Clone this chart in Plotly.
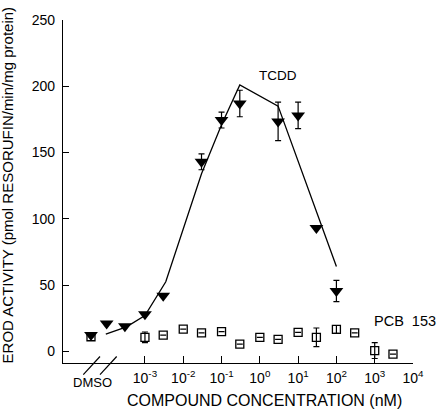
import numpy as np
import plotly.graph_objects as go

# -------------------------------
# Datos
# -------------------------------
DMSO_POS = 3.9e-5  # posicion nominal del control DMSO en el eje x (nM)

tcdd_dmso = 12.3
pcb_dmso = 11.0

tcdd_conc = [1e-4, 3e-4, 1e-3, 3e-3, 3e-2, 1e-1, 3e-1, 3, 10, 30, 100]
tcdd_erod = [21, 19, 28, 42, 143, 174.5, 187, 173.5, 178, 93, 45.5]
tcdd_err = [0, 0, 0, 0, 6, 6, 10, 14.5, 10, 0, 8]

fit_conc = [9.5e-5, 3.3e-4, 1e-3, 3.5e-3, 3e-2, 1e-1, 3e-1, 3, 100]
fit_erod = [13, 18.5, 27, 52.5, 134, 171, 201, 185, 64]

pcb_conc = [1e-3, 3e-3, 1e-2, 3e-2, 1e-1, 3e-1, 1, 3, 10, 30, 100, 300, 1000, 3000]
pcb_erod = [10.6, 12.3, 16.8, 14, 14.8, 5.4, 10.6, 9.1, 14.3, 10.6, 16.5, 14, 0.6, -2.1]
pcb_err = [4, 0, 0, 0, 0, 0, 0, 0, 0, 7, 3, 0, 6, 0]

x_ticks = [1e-3, 1e-2, 1e-1, 1, 10, 100, 1e3, 1e4]
x_ticktext = ["10<sup>-3</sup>", "10<sup>-2</sup>", "10<sup>-1</sup>", "10<sup>0</sup>",
              "10<sup>1</sup>", "10<sup>2</sup>", "10<sup>3</sup>", "10<sup>4</sup>"]
y_ticks = [0, 50, 100, 150, 200, 250]

FONT = "Liberation Sans, Arial, sans-serif"

fig = go.Figure()

# Curva ajustada TCDD
fig.add_trace(go.Scatter(x=fit_conc, y=fit_erod, mode="lines",
                         line=dict(color="black", width=1.3), hoverinfo="skip"))

# PCB 153 (cuadrados abiertos)
fig.add_trace(go.Scatter(
    x=[DMSO_POS] + pcb_conc, y=[pcb_dmso] + pcb_erod, mode="markers",
    marker=dict(symbol="square-open", size=8, color="black", line=dict(width=1.3)),
    error_y=dict(type="data", array=[0] + pcb_err, color="black", thickness=1.2, width=3),
))

# TCDD (triangulos llenos)
fig.add_trace(go.Scatter(
    x=[DMSO_POS] + tcdd_conc, y=[tcdd_dmso] + tcdd_erod, mode="markers",
    marker=dict(symbol="triangle-down", size=12, color="black"),
    error_y=dict(type="data", array=[0] + tcdd_err, color="black", thickness=1.2, width=3),
))

fig.update_xaxes(
    type="log", range=[-5.14, 4.0],
    tickvals=x_ticks, ticktext=x_ticktext,
    ticks="inside", ticklen=7, tickwidth=1.2, tickcolor="black",
    showline=True, linecolor="black", linewidth=1.2,
    showgrid=False, zeroline=False, ticklabelstandoff=2,
    tickfont=dict(family=FONT, size=14, color="black"),
)
fig.update_yaxes(
    range=[-8.8, 250],
    tickvals=y_ticks,
    ticks="inside", ticklen=6, tickwidth=1.2, tickcolor="black",
    showline=True, linecolor="black", linewidth=1.2,
    showgrid=False, zeroline=False, ticklabelstandoff=4,
    tickfont=dict(family=FONT, size=14, color="black"),
)

annotations = [
    dict(text="EROD ACTIVITY (pmol RESORUFIN/min/mg protein)", xref="paper", yref="paper",
         x=-0.156, y=0.519, xanchor="center", yanchor="middle", textangle=-90,
         showarrow=False, font=dict(family=FONT, size=15, color="black")),
    dict(text="COMPOUND CONCENTRATION (nM)", xref="paper", yref="paper",
         x=0.576, y=-0.1106, xanchor="center", yanchor="middle", showarrow=False,
         font=dict(family=FONT, size=16, color="black")),
    dict(text="DMSO", xref="x", yref="paper", x=np.log10(DMSO_POS) + 0.03, y=-0.057,
         showarrow=False, yanchor="middle",
         font=dict(family=FONT, size=13, color="black")),
    dict(text="TCDD", xref="x", yref="y", x=0.465, y=208, showarrow=False,
         font=dict(family=FONT, size=13.5, color="black")),
    dict(text="PCB  153", xref="x", yref="y", x=2.92, y=22.7, showarrow=False,
         xanchor="left", font=dict(family=FONT, size=14.5, color="black")),
]

# marcas de corte del eje
shapes = []
for x0 in [0.058, 0.1057]:
    shapes.append(dict(type="line", xref="paper", yref="paper",
                       x0=x0, y0=-0.0337, x1=x0 + 0.0477, y1=0.019,
                       line=dict(color="black", width=1.2)))

fig.update_layout(
    width=439, height=410,
    margin=dict(l=63, r=26, t=16, b=47),
    paper_bgcolor="white", plot_bgcolor="white",
    showlegend=False,
    annotations=annotations, shapes=shapes,
)

# quitar el margen por defecto del body para que la figura empiece en (0, 0)
fig.write_html("out.html", config={"displayModeBar": False},
               post_script="document.body.style.margin='0';")
